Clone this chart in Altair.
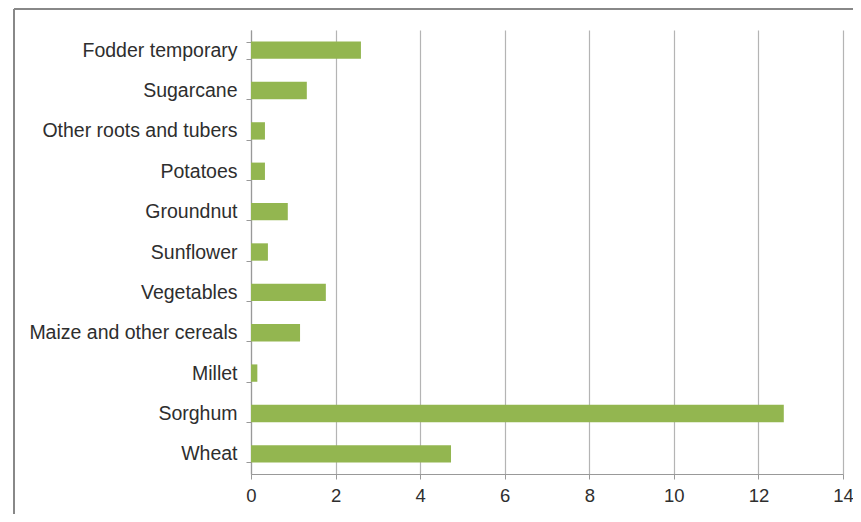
import altair as alt
import pandas as pd

crops = ["Fodder temporary", "Sugarcane", "Other roots and tubers", "Potatoes",
         "Groundnut", "Sunflower", "Vegetables", "Maize and other cereals",
         "Millet", "Sorghum", "Wheat"]
values = [2.6, 1.32, 0.33, 0.33, 0.87, 0.4, 1.77, 1.16, 0.15, 12.6, 4.73]
x_ticks = [0, 2, 4, 6, 8, 10, 12, 14]

df = pd.DataFrame({"crop": crops, "value": values})

FONT = "Liberation Sans"
GREEN = "#93B650"
GRID = "#b4b4b4"
TXT = "#2e2e2e"

bars = alt.Chart(df).mark_bar(color=GREEN).encode(
    y=alt.Y("crop:N", sort=crops, title=None,
            scale=alt.Scale(paddingInner=0.57, paddingOuter=0.285),
            axis=alt.Axis(labelFont=FONT, labelFontSize=19.5, labelColor=TXT,
                          labelPadding=9, labelLimit=400, tickBand="extent", tickSize=5,
                          tickColor="#999", domainColor="#999", domainWidth=1.2)),
    x=alt.X("value:Q", title=None,
            scale=alt.Scale(domain=[0, 14], nice=False),
            axis=alt.Axis(values=x_ticks, labelFont=FONT, labelFontSize=18.5,
                          labelColor=TXT, labelPadding=7, tickSize=5,
                          tickColor="#999", domainColor="#999", domainWidth=1.2,
                          grid=True, gridColor=GRID, gridWidth=1.2,
                          labelFlush=False)),
)

left_border = alt.Chart(df).mark_rule(color="#888", strokeWidth=1.5).encode(
    x=alt.value(-237), y=alt.value(-21), y2=alt.value(500))
top_border = alt.Chart(df).mark_rule(color="#888", strokeWidth=1.5).encode(
    x=alt.value(-237), x2=alt.value(700), y=alt.value(-21))

chart = alt.layer(bars, left_border, top_border).properties(
    width=592, height=444,
    padding={"left": 243, "top": 22, "right": 10, "bottom": 40},
    autosize=alt.AutoSizeParams(type="none"),
).configure_view(stroke=None)

chart.save("out.html", embed_options={"renderer": "svg", "actions": False})
